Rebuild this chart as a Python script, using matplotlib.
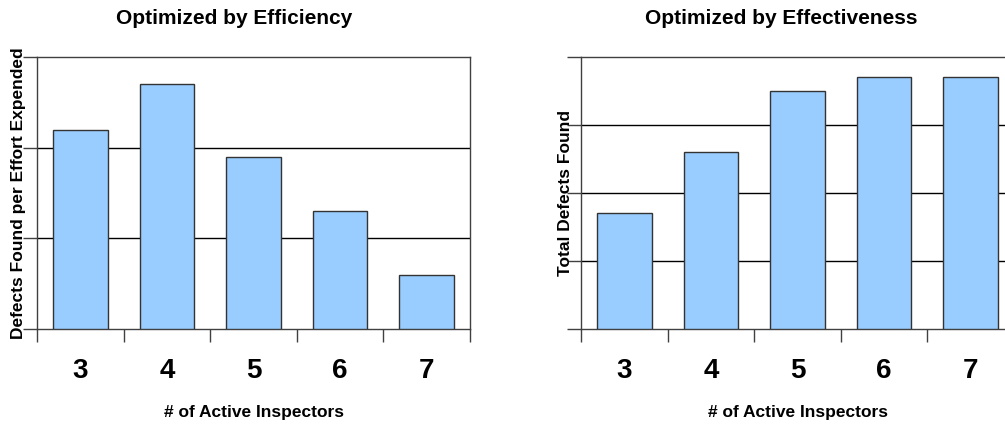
import matplotlib.pyplot as plt
from matplotlib.ticker import FixedLocator

plt.rcParams['font.family'] = ['Liberation Sans', 'DejaVu Sans']
plt.rcParams['font.weight'] = 'bold'

# Inspection results by number of active inspectors
inspectors = ['3', '4', '5', '6', '7']
efficiency = [22, 27, 19, 13, 6]          # defects found per effort expended
effectiveness = [17, 26, 35, 37, 37]      # total defects found

bar_color = '#99CCFF'
edge_color = '#333333'
spine_color = '#404040'

fig = plt.figure(figsize=(10.05, 4.26), dpi=100)

# axes placed in pixels; the right chart runs past the figure edge
W, H = 1005, 426
ax1 = fig.add_axes([37 / W, (H - 329) / H, 433 / W, 272 / H])
ax2 = fig.add_axes([581 / W, (H - 329) / H, 433 / W, 272 / H])


def draw(ax, values, ymax, ystep, title, title_x, ylabel, ylab_x):
    x = range(len(values))
    ax.bar(x, values, width=0.63, color=bar_color, edgecolor=edge_color,
           linewidth=1.0, zorder=3)
    ax.set_xlim(-0.5, len(values) - 0.5)
    ax.set_ylim(0, ymax)

    yt = list(range(0, ymax + 1, ystep))
    ax.set_yticks(yt)
    ax.set_yticklabels([])
    ax.tick_params(axis='y', direction='out', length=10, width=1, color=spine_color)
    for v in yt[1:-1]:
        ax.axhline(v, color='black', linewidth=1.0, zorder=1)

    # category labels under bars, tick marks between bars
    ax.set_xticks(list(x))
    ax.set_xticklabels(inspectors, fontsize=20, fontweight='bold')
    ax.tick_params(axis='x', which='major', length=0, pad=21)
    ax.xaxis.set_minor_locator(FixedLocator([i - 0.5 for i in range(len(values) + 1)]))
    ax.tick_params(axis='x', which='minor', direction='out', length=9, width=1,
                   color=spine_color)

    for s in ax.spines.values():
        s.set_color(spine_color)
        s.set_linewidth(1.0)

    ax.text(title_x, (329 - 18) / 272, title, transform=ax.transAxes,
            fontsize=15, fontweight='bold', ha='center', va='center')
    ax.set_xlabel('# of Active Inspectors', fontsize=12.5, fontweight='bold', va='center')
    ax.xaxis.set_label_coords(0.5, (329 - 412) / 272)
    ax.set_ylabel(ylabel, fontsize=12.5, fontweight='bold', va='center')
    ax.yaxis.set_label_coords(ylab_x, 0.5)


draw(ax1, efficiency, 30, 10, 'Optimized by Efficiency', (234 - 37) / 433,
     'Defects Found per Effort Expended', (19 - 37) / 433)
draw(ax2, effectiveness, 40, 10, 'Optimized by Effectiveness', (781 - 581) / 433,
     'Total Defects Found', (565 - 581) / 433)

fig.savefig('out.png', dpi=100)
